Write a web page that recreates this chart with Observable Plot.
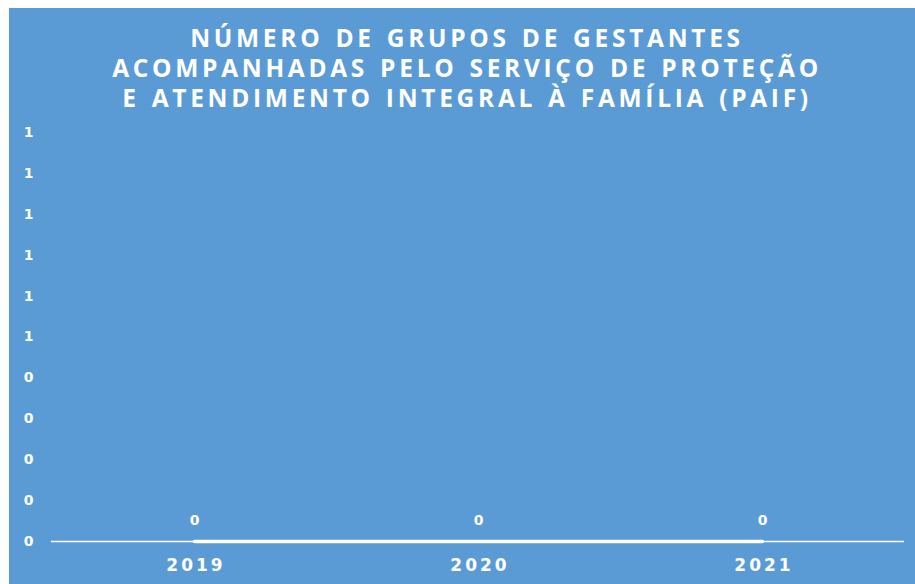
<!DOCTYPE html>
<html>
<head>
<meta charset="utf-8">
<script src="https://cdn.jsdelivr.net/npm/d3@7"></script>
<script src="https://cdn.jsdelivr.net/npm/@observablehq/plot@0.6"></script>
<style>
  html, body { margin: 0; padding: 0; background: #ffffff; }
  #card {
    position: absolute; left: 9px; top: 8px; width: 906px; height: 576px;
    background: #5B9BD5; overflow: hidden;
  }
  #title {
    height: 115px; box-sizing: border-box; padding-top: 15px; padding-left: 10px;
    text-align: center; color: #ffffff;
    font-family: "Open Sans", Lato, sans-serif; font-weight: 700;
    font-size: 24.5px; line-height: 30px; letter-spacing: 3.7px; word-spacing: 2px;
  }
  #chart svg { display: block; }
  #chart svg text { font-family: "DejaVu Sans", Verdana, sans-serif !important; font-weight: bold !important; fill: #ffffff; }
  #chart svg g[aria-label="y-axis tick label"] text { font-size: 14px !important; }
  #chart svg g[aria-label="x-axis tick label"] text { font-size: 17px !important; letter-spacing: 3px; }
  #chart svg g.labels text { font-size: 14px !important; }
</style>
</head>
<body>
<div id="card">
  <div id="title">NÚMERO DE GRUPOS DE GESTANTES<br>ACOMPANHADAS PELO SERVIÇO DE PROTEÇÃO<br>E ATENDIMENTO INTEGRAL À FAMÍLIA (PAIF)</div>
  <div id="chart"></div>
</div>
<script>
const years = ["2019", "2020", "2021"];
const values = [0, 0, 0];
const yTicks = [0, 0.1, 0.2, 0.3, 0.4, 0.5, 0.6, 0.7, 0.8, 0.9, 1.0];
const yTickLabels = ["0", "0", "0", "0", "0", "1", "1", "1", "1", "1", "1"];

const data = years.map((y, i) => ({year: y, value: values[i]}));

const chart = Plot.plot({
  width: 906,
  height: 461,
  marginTop: 9,
  marginBottom: 43,
  marginLeft: 42,
  marginRight: 11,
  style: {background: "transparent", color: "#ffffff", overflow: "visible"},
  x: {type: "point", domain: years, padding: 0.5},
  y: {domain: [0, 1]},
  marks: [
    Plot.axisY({
      ticks: yTicks,
      tickFormat: (d, i) => yTickLabels[i],
      tickSize: 0,
      tickPadding: 18,
      fill: "#ffffff",
      label: null
    }),
    Plot.axisX({
      tickSize: 0,
      tickPadding: 17,
      fill: "#ffffff",
      dx: 1.5,
      label: null
    }),
    Plot.ruleY([0], {stroke: "#ffffff", strokeWidth: 1.5}),
    Plot.line(data, {x: "year", y: "value", stroke: "#ffffff", strokeWidth: 3.5, strokeLinecap: "round"}),
    Plot.text(data, {
      x: "year", y: "value", text: d => String(d.value), dy: -21,
      fill: "#ffffff", className: "labels"
    })
  ]
});
document.getElementById("chart").appendChild(chart);
</script>
</body>
</html>
